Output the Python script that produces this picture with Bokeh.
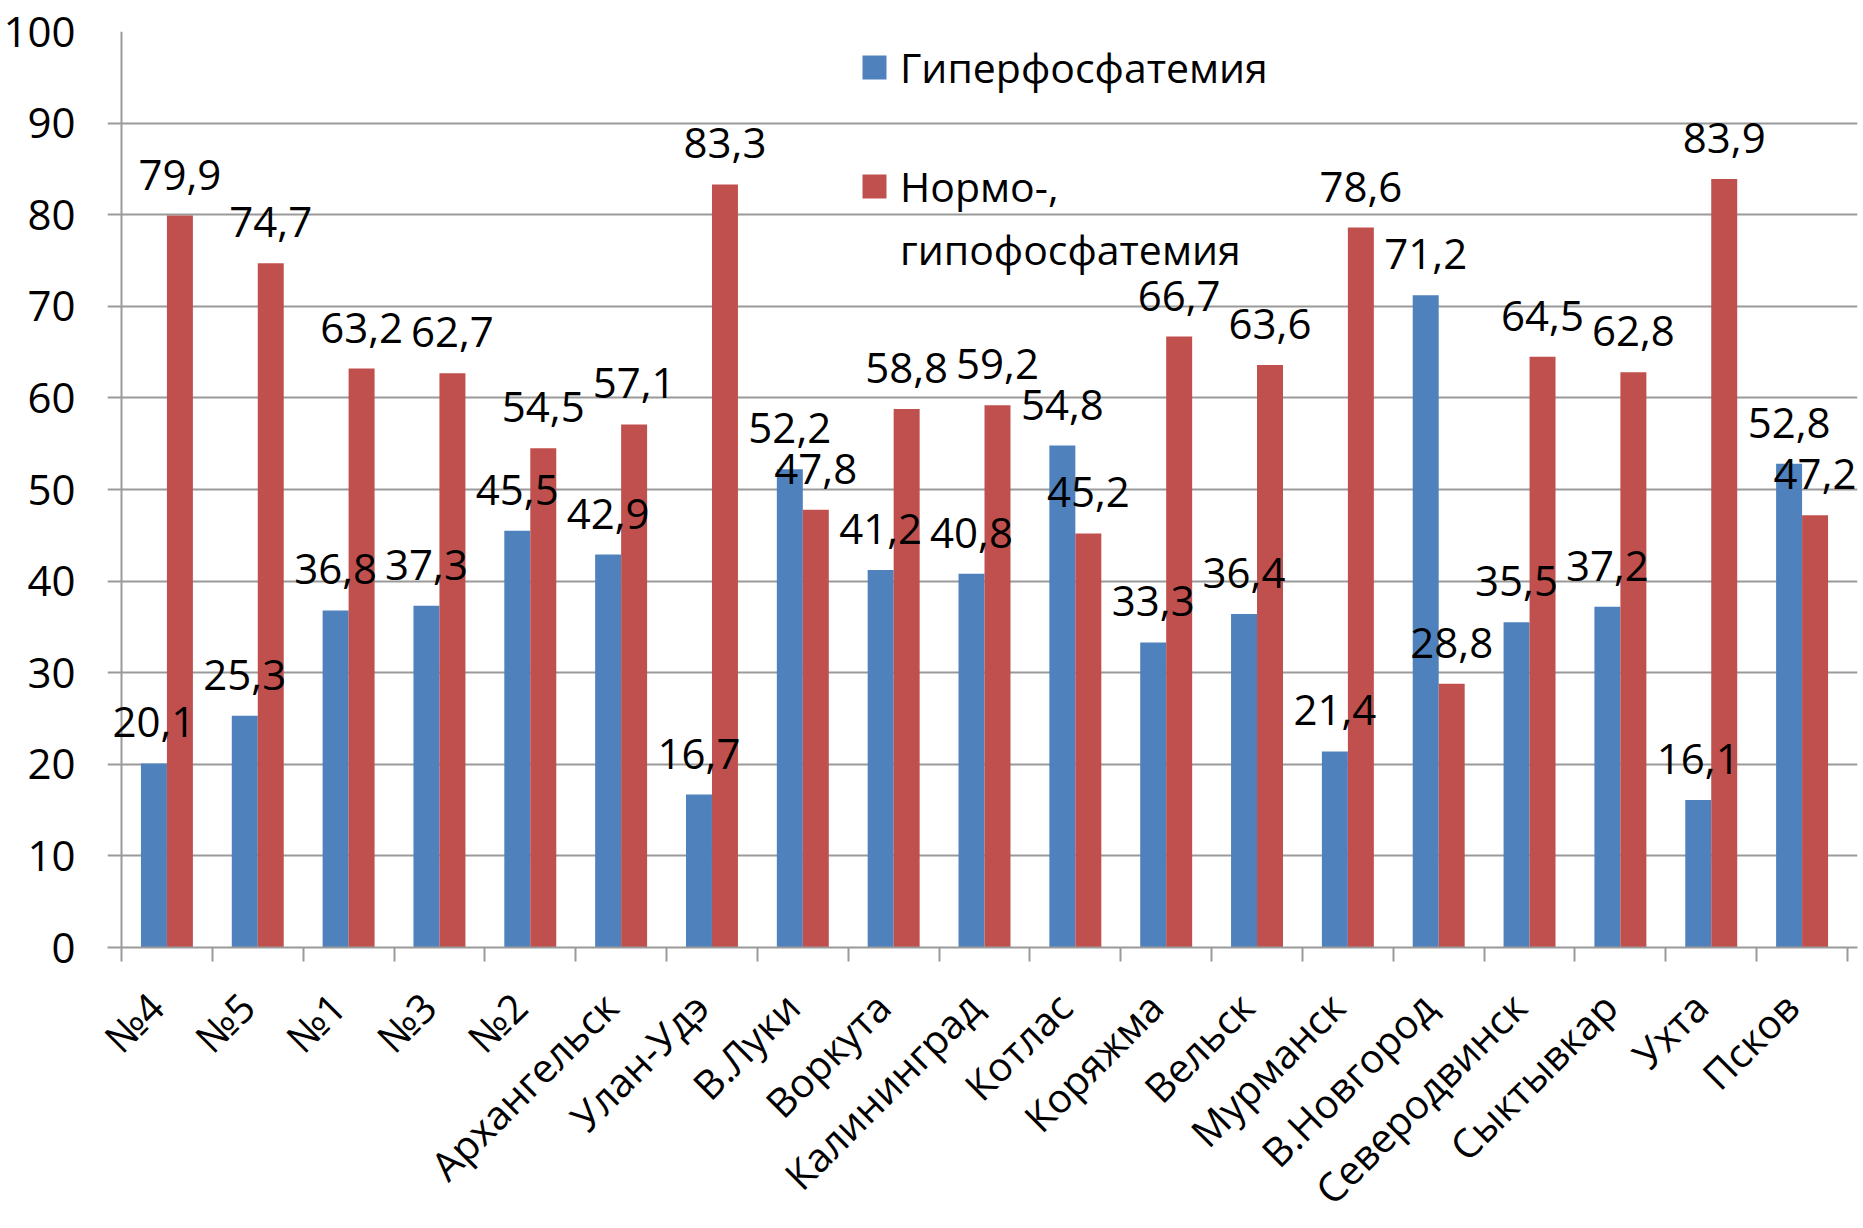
import numpy as np
from bokeh.plotting import figure
from bokeh.models import (Range1d, FixedTicker, ColumnDataSource, LabelSet, Legend, LegendItem, Span)
from bokeh.core.properties import value
from bokeh.embed import file_html
from bokeh.resources import INLINE

categories = ["№4", "№5", "№1", "№3", "№2", "Архангельск", "Улан-Удэ", "В.Луки", "Воркута",
              "Калининград", "Котлас", "Коряжма", "Вельск", "Мурманск", "В.Новгород",
              "Северодвинск", "Сыктывкар", "Ухта", "Псков"]
hyper = [20.1, 25.3, 36.8, 37.3, 45.5, 42.9, 16.7, 52.2, 41.2, 40.8, 54.8, 33.3, 36.4, 21.4,
         71.2, 35.5, 37.2, 16.1, 52.8]
normo = [79.9, 74.7, 63.2, 62.7, 54.5, 57.1, 83.3, 47.8, 58.8, 59.2, 45.2, 66.7, 63.6, 78.6,
         28.8, 64.5, 62.8, 83.9, 47.2]
y_ticks = [0, 10, 20, 30, 40, 50, 60, 70, 80, 90, 100]
legend_lines = ["Гиперфосфатемия", "Нормо-,", "гипофосфатемия"]

BLUE = "#4F81BD"
RED = "#C0504D"
GRAY = "#9a9a9a"
FONT = "Open Sans"

n = len(categories)
idx = np.arange(n)
s = 0.12          # label anchor shift relative to category centre
centers = idx + s
bw = 0.286
PX = 1726 / n     # pixels per category
EXT_L, EXT_R = 14, 10   # frame overhang (px): gridline ticks on the left, room for labels on the right
fmt = lambda v: f"{v:.1f}".replace(".", ",")
src = ColumnDataSource(dict(
    xb=centers - bw / 2, xr=centers + bw / 2,
    hyper=hyper, normo=normo,
    lh=[fmt(v) for v in hyper], ln=[fmt(v) for v in normo],
))

p = figure(frame_width=1726 + EXT_L + EXT_R, frame_height=916, output_backend="svg",
           toolbar_location=None,
           x_range=Range1d(s - 0.5 - EXT_L / PX, n - 0.5 + s + EXT_R / PX), y_range=Range1d(0, 100),
           min_border_left=105, min_border_right=7, min_border_top=31, min_border_bottom=265)
p.outline_line_color = None
p.background_fill_color = "white"

p.ygrid.ticker = FixedTicker(ticks=y_ticks)
p.ygrid.grid_line_color = GRAY
p.ygrid.grid_line_width = 2
p.xgrid.grid_line_color = None

# vertical axis line at the start of the first category
p.add_layout(Span(location=s - 0.5, dimension="height", line_color=GRAY, line_width=2, level="underlay"))

rb = p.vbar(x="xb", top="hyper", bottom=0, width=bw, source=src, fill_color=BLUE, line_color=None)
rr = p.vbar(x="xr", top="normo", bottom=0, width=bw, source=src, fill_color=RED, line_color=None)
rd = p.vbar(x=[0], top=[0], bottom=0, width=0, fill_alpha=0, line_alpha=0)

# y axis (labels only; line drawn by the Span, ticks are the gridline overhang)
p.yaxis.ticker = FixedTicker(ticks=y_ticks)
p.yaxis.axis_line_color = None
p.yaxis.major_tick_line_color = None
p.yaxis.major_tick_out = 0
p.yaxis.major_tick_in = 0
p.yaxis.minor_tick_line_color = None
p.yaxis.major_label_text_font = FONT
p.yaxis.major_label_text_font_size = "42px"
p.yaxis.major_label_text_color = "black"
p.yaxis.major_label_standoff = 32

# x axis: labels near centres, ticks at category boundaries
p.xaxis.ticker = FixedTicker(ticks=list(idx), minor_ticks=list(centers - 0.5) + [n - 0.5 + s])
p.xaxis.major_label_overrides = {int(i): c for i, c in zip(idx, categories)}
p.xaxis.axis_line_color = GRAY
p.xaxis.axis_line_width = 2
p.xaxis.major_tick_line_color = None
p.xaxis.minor_tick_line_color = GRAY
p.xaxis.minor_tick_line_width = 2
p.xaxis.minor_tick_out = 14
p.xaxis.minor_tick_in = 0
p.xaxis.major_label_orientation = np.pi / 4
p.xaxis.major_label_text_font = FONT
p.xaxis.major_label_text_font_size = "40px"
p.xaxis.major_label_text_color = "black"
p.xaxis.major_label_standoff = 38

for col, xcol, ycol in (("lh", "xb", "hyper"), ("ln", "xr", "normo")):
    p.add_layout(LabelSet(x=xcol, y=ycol, text=col, source=src, text_align="center",
                          text_baseline="alphabetic", y_offset=26, text_font=value(FONT),
                          text_font_size=value("42px"), text_color="black"))

common = dict(glyph_width=30, glyph_height=30, label_standoff=11, label_text_font=FONT,
              label_text_font_size="41px", label_text_color="black", padding=0, margin=0,
              border_line_alpha=0, background_fill_alpha=0, label_height=40, spacing=7)
legA = Legend(items=[LegendItem(label=legend_lines[0], renderers=[rb])],
              location=(738 + EXT_L, 852), **common)
legB = Legend(items=[LegendItem(label=legend_lines[1], renderers=[rr]),
                     LegendItem(label=legend_lines[2], renderers=[rd])],
              location=(738 + EXT_L, 670), **common)
p.add_layout(legA)
p.add_layout(legB)

open("out.html", "w").write(file_html(p, INLINE))
